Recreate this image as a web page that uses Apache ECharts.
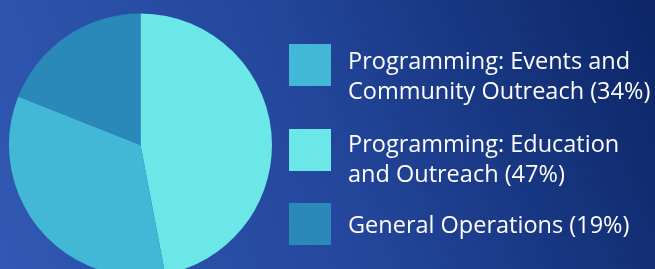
<!DOCTYPE html>
<html>
<head>
<meta charset="utf-8">
<script src="https://cdn.jsdelivr.net/npm/echarts@6/dist/echarts.min.js"></script>
<style>
  html, body { margin: 0; padding: 0; }
  #chart { width: 655px; height: 269px; }
</style>
</head>
<body>
<div id="chart"></div>
<script>
// pie order, clockwise from 12 o'clock
const names = [
  'Programming: Education\nand Outreach (47%)',
  'Programming: Events and\nCommunity Outreach (34%)',
  'General Operations (19%)',
];
const values = [47, 34, 19];
const colors = ['#6be7e8', '#42b8d6', '#2b89ba'];

// legend order as shown on the right
const legendOrder = [1, 0, 2];
const legendTops = [22.5, 110, 203];
const legendSpacer = [25, 20, 4];

const chart = echarts.init(document.getElementById('chart'));

const legends = legendOrder.map((idx, i) => ({
  left: 289,
  top: legendTops[i],
  padding: 0,
  orient: 'vertical',
  selectedMode: false,
  icon: 'rect',
  itemWidth: 42,
  itemHeight: 42,
  data: [names[idx]],
  // an empty first line pushes the label a bit below the square's centre
  formatter: (name) => '{s| }\n' + name,
  textStyle: {
    color: '#ffffff',
    fontFamily: 'Open Sans',
    fontSize: 23.5,
    lineHeight: 30,
    padding: [0, 0, 0, 12],
    rich: {
      s: { fontSize: 1, lineHeight: legendSpacer[i] },
    },
  },
}));

chart.setOption({
  backgroundColor: new echarts.graphic.LinearGradient(0, 1, 1, 0, [
    { offset: 0, color: '#3159b3' },
    { offset: 0.5, color: '#23469b' },
    { offset: 1, color: '#0c2666' },
  ]),
  animation: false,
  legend: legends,
  series: [
    {
      type: 'pie',
      center: [140.5, 145],
      radius: 131.5,
      startAngle: 90,
      clockwise: true,
      label: { show: false },
      labelLine: { show: false },
      emphasis: { disabled: true },
      itemStyle: { borderWidth: 0 },
      data: names.map((name, i) => ({
        name,
        value: values[i],
        itemStyle: { color: colors[i] },
      })),
    },
  ],
});
</script>
</body>
</html>
